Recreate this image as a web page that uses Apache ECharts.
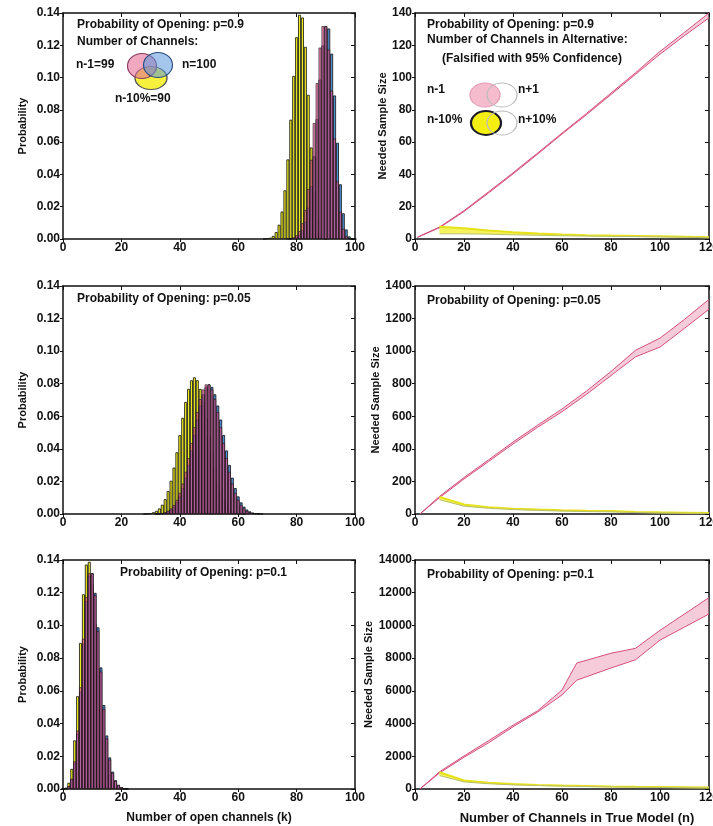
<!DOCTYPE html>
<html><head><meta charset="utf-8">
<script src="https://cdn.jsdelivr.net/npm/echarts@6/dist/echarts.min.js"></script>
<style>html,body{margin:0;padding:0;background:#fff;overflow:hidden}#c{width:713px;height:826px}</style>
</head><body><div id="c"></div>
<script>
// ---------- Histogram data (probability of k open channels) ----------
// p = 0.9
const topN100K0 = 78;
const topN100P = [0.0002,0.0005,0.0012,0.0026,0.0054,0.0106,0.0193,0.0327,0.0513,0.0743,0.0988,0.1199,0.1319,0.1304,0.1148,0.0889,0.0596,0.0339,0.0159,0.0059,0.0016,0.0003,0.0000];
const topN99K0 = 77;
const topN99P = [0.0002,0.0004,0.0010,0.0023,0.0049,0.0098,0.0180,0.0309,0.0490,0.0719,0.0966,0.1186,0.1319,0.1319,0.1174,0.0919,0.0622,0.0357,0.0169,0.0063,0.0018,0.0003,0.0000];
const topN90K0 = 69;
const topN90P = [0.0001,0.0003,0.0008,0.0019,0.0043,0.0088,0.0170,0.0301,0.0493,0.0739,0.1010,0.1250,0.1389,0.1372,0.1190,0.0893,0.0567,0.0297,0.0123,0.0038,0.0008,0.0001];
// p = 0.05 (as labelled)
const midN100K0 = 32;
const midN100P = [0.0001,0.0002,0.0005,0.0009,0.0016,0.0027,0.0045,0.0071,0.0108,0.0159,0.0223,0.0301,0.0390,0.0485,0.0580,0.0666,0.0735,0.0780,0.0796,0.0780,0.0735,0.0666,0.0580,0.0485,0.0390,0.0301,0.0223,0.0159,0.0108,0.0071,0.0045,0.0027,0.0016,0.0009,0.0005,0.0002,0.0001];
const midN99K0 = 32;
const midN99P = [0.0002,0.0003,0.0006,0.0011,0.0020,0.0034,0.0055,0.0087,0.0130,0.0187,0.0259,0.0343,0.0436,0.0533,0.0626,0.0706,0.0765,0.0796,0.0796,0.0765,0.0706,0.0626,0.0533,0.0436,0.0343,0.0259,0.0187,0.0130,0.0087,0.0055,0.0034,0.0020,0.0011,0.0006,0.0003,0.0002];
const midN90K0 = 28;
const midN90P = [0.0001,0.0003,0.0005,0.0011,0.0019,0.0034,0.0057,0.0091,0.0140,0.0204,0.0285,0.0379,0.0484,0.0590,0.0688,0.0768,0.0821,0.0839,0.0821,0.0768,0.0688,0.0590,0.0484,0.0379,0.0285,0.0204,0.0140,0.0091,0.0057,0.0034,0.0019,0.0011,0.0005,0.0003,0.0001];
// p = 0.1
const botN100K0 = 0;
const botN100P = [0.0000,0.0003,0.0016,0.0059,0.0159,0.0339,0.0596,0.0889,0.1148,0.1304,0.1319,0.1199,0.0988,0.0743,0.0513,0.0327,0.0193,0.0106,0.0054,0.0026,0.0012,0.0005,0.0002];
const botN99K0 = 0;
const botN99P = [0.0000,0.0003,0.0018,0.0063,0.0169,0.0357,0.0622,0.0919,0.1174,0.1319,0.1319,0.1186,0.0966,0.0719,0.0490,0.0309,0.0180,0.0098,0.0049,0.0023,0.0010,0.0004,0.0002];
const botN90K0 = 0;
const botN90P = [0.0001,0.0008,0.0038,0.0123,0.0297,0.0567,0.0893,0.1190,0.1372,0.1389,0.1250,0.1010,0.0739,0.0493,0.0301,0.0170,0.0088,0.0043,0.0019,0.0008,0.0003,0.0001];

// ---------- Needed sample size data ----------
const topPinkN = [1,10,20,30,40,50,60,70,80,90,100,110,120];
const topPinkHi = [1.2,7.4,17.6,29.2,41,53.2,65.6,77.8,90.4,103,116.2,128,140];
const topPinkLo = [1,7.0,17.0,28.5,40.3,52.5,65,77,89.5,102,114.5,126,137];
const topYelN = [10,20,30,40,50,60,70,80,90,100,110,120];
const topYelHi = [7.6,6.6,5.2,4.2,3.4,2.8,2.4,2.1,1.9,1.7,1.4,1.1];
const topYelLo = [3.2,3.2,3.0,2.6,2.3,2.0,1.8,1.6,1.5,1.3,1.1,0.8];

const midPinkN = [2,10,20,30,40,50,60,70,80,90,100,110,120];
const midPinkHi = [0,108,224,332,442,545,645,755,875,1005,1080,1195,1318];
const midPinkLo = [0,100,215,322,430,532,628,735,850,965,1025,1140,1258];
const midYelN = [10,20,30,40,50,60,70,80,90,100,110,120];
const midYelHi = [105,58,42,33,27,23,20,18,13,10,8,6];
const midYelLo = [88,48,35,27,22,18,15,13,9,6,5,3];

const botPinkN = [2,10,20,30,40,50,60,66,80,90,100,110,120];
const botPinkHi = [0,1050,2020,2950,3900,4780,6050,7700,8300,8600,9700,10700,11700];
const botPinkLo = [0,980,1940,2820,3800,4700,5750,6650,7400,7900,9100,9900,10700];
const botYelN = [10,20,30,40,50,60,70,80,90,100,110,120];
const botYelHi = [1020,520,380,300,250,210,180,150,130,115,100,85];
const botYelLo = [820,430,320,250,210,175,150,125,110,95,80,70];

// ---------- tick settings ----------
const histXTicks = {min:0, max:100, interval:20};
const histYTicks = {min:0, max:0.14, interval:0.02};
const sizeXTicks = {min:0, max:120, interval:20};
const sizeYTicks = [{min:0,max:140,interval:20},{min:0,max:1400,interval:200},{min:0,max:14000,interval:2000}];

// ---------- helpers ----------
const FONT = 'Liberation Sans';
function bars(k0, ps){ return ps.map((p,i)=>[k0+i, p]); }
function zip(xs, ys){ return xs.map((x,i)=>[x, ys[i]]); }

const grids = [];
const L = {left:63, right:358}, R = {left:415, right:4};
const rows = [{top:13,height:226},{top:286,height:228},{top:560,height:229}];
rows.forEach(r=>{
  grids.push({left:L.left,right:L.right,top:r.top,height:r.height,outerBoundsMode:'none',containLabel:false});
  grids.push({left:R.left,right:R.right,top:r.top,height:r.height,outerBoundsMode:'none',containLabel:false});
});

const lineCol = '#111';
const labelStyle = {fontFamily:FONT, fontWeight:'bold', fontSize:12, color:'#111'};
const xAxes = [], yAxes = [];
for (let g=0; g<6; g++){
  const isHist = g%2===0;
  const xt = isHist ? histXTicks : sizeXTicks;
  const yt = isHist ? histYTicks : sizeYTicks[Math.floor(g/2)];
  const bottomRow = g>=4;
  xAxes.push({type:'value', gridIndex:g, position:'bottom', min:xt.min, max:xt.max, interval:xt.interval,
    splitLine:{show:false}, axisLine:{onZero:false,lineStyle:{color:lineCol,width:1.5}},
    axisTick:{inside:false,length:3,lineStyle:{color:lineCol}},
    axisLabel:Object.assign({margin:3}, labelStyle),
    name: bottomRow ? (isHist ? 'Number of open channels (k)' : 'Number of Channels in True Model (n)') : '',
    nameLocation:'middle', nameGap: 23,
    nameTextStyle: isHist ? {fontFamily:FONT,fontWeight:'bold',fontSize:12,color:'#111'}
                          : {fontFamily:FONT,fontWeight:'bold',fontSize:13,color:'#111',padding:[0,0,0,30]}});
  yAxes.push({type:'value', gridIndex:g, position:'left', min:yt.min, max:yt.max, interval:yt.interval,
    splitLine:{show:false}, axisLine:{onZero:false,lineStyle:{color:lineCol,width:1.5}},
    axisTick:{inside:false,length:3,lineStyle:{color:lineCol}},
    axisLabel:Object.assign({margin:3, formatter: isHist ? (v=>v.toFixed(2)) : (v=>String(v))}, labelStyle),
    name: isHist ? 'Probability' : 'Needed Sample Size',
    nameLocation:'middle', nameGap: isHist ? 35 : 27,
    nameTextStyle:{fontFamily:FONT,fontWeight:'bold',fontSize:11,color:'#111'}});
}
for (let g=0; g<6; g++){
  const isHist = g%2===0;
  const xt = isHist ? histXTicks : sizeXTicks;
  const yt = isHist ? histYTicks : sizeYTicks[Math.floor(g/2)];
  xAxes.push({type:'value', gridIndex:g, position:'top', min:xt.min, max:xt.max, interval:xt.interval,
    splitLine:{show:false}, axisLine:{onZero:false,lineStyle:{color:lineCol,width:1.5}},
    axisTick:{inside:true,length:4,lineStyle:{color:lineCol}}, axisLabel:{show:false}});
  yAxes.push({type:'value', gridIndex:g, position:'right', min:yt.min, max:yt.max, interval:yt.interval,
    splitLine:{show:false}, axisLine:{onZero:false,lineStyle:{color:lineCol,width:1.5}},
    axisTick:{inside:true,length:4,lineStyle:{color:lineCol}}, axisLabel:{show:false}});
}

const YEL = '#f0ee1a', BLUE = '#4f8fd6', PINK = '#e2508e';
function barSeries(g, data, color, opacity){
  return {type:'bar', xAxisIndex:g, yAxisIndex:g, data:data, barWidth:2.9, barGap:'-100%',
    silent:true, itemStyle:{color:color, opacity:opacity, borderColor:'#111', borderWidth:0.8}};
}
function bandSeries(g, xs, lo, hi, color){
  return {type:'custom', xAxisIndex:g, yAxisIndex:g, data:[[xs[0], lo[0]]], silent:true, z:1,
    renderItem:function(params, api){
      const pts=[];
      for(let i=0;i<xs.length;i++) pts.push(api.coord([xs[i],hi[i]]));
      for(let i=xs.length-1;i>=0;i--) pts.push(api.coord([xs[i],lo[i]]));
      return {type:'polygon', shape:{points:pts}, style:{fill:color}};
    }};
}
function lineSeries(g, xs, ys, color, width){
  return {type:'line', xAxisIndex:g, yAxisIndex:g, data:zip(xs,ys), showSymbol:false, silent:true, z:3,
    lineStyle:{color:color,width:width}};
}

const series = [];
// histograms
[[0,topN90K0,topN90P,topN100K0,topN100P,topN99K0,topN99P],
 [2,midN90K0,midN90P,midN100K0,midN100P,midN99K0,midN99P],
 [4,botN90K0,botN90P,botN100K0,botN100P,botN99K0,botN99P]].forEach(a=>{
  series.push(barSeries(a[0], bars(a[1],a[2]), YEL, 1));
  series.push(barSeries(a[0], bars(a[3],a[4]), BLUE, 1));
  series.push(barSeries(a[0], bars(a[5],a[6]), PINK, 0.7));
});
// sample size
[[1,topPinkN,topPinkLo,topPinkHi,topYelN,topYelLo,topYelHi],
 [3,midPinkN,midPinkLo,midPinkHi,midYelN,midYelLo,midYelHi],
 [5,botPinkN,botPinkLo,botPinkHi,botYelN,botYelLo,botYelHi]].forEach(a=>{
  const g=a[0];
  series.push(bandSeries(g, a[1], a[2], a[3], 'rgba(236,140,172,0.45)'));
  series.push(lineSeries(g, a[1], a[2], '#d4507a', 1));
  series.push(lineSeries(g, a[1], a[3], '#d4507a', 1));
  series.push(bandSeries(g, a[4], a[5], a[6], 'rgba(242,238,40,0.75)'));
  series.push(lineSeries(g, a[4], a[6], '#e6e21a', 2));
  series.push(lineSeries(g, a[4], a[5], '#b8c070', 1));
});

// ---------- annotations ----------
function txt(x,y,s,size){ return {type:'text', x:x, y:y, silent:true, z:100,
  style:{text:s, fill:'#111', font:'bold '+(size||12)+'px "'+FONT+'"', textVerticalAlign:'middle', textAlign:'left'}}; }
function ell(cx,cy,rx,ry,fill,stroke,lw){ return {type:'circle', x:cx, y:cy, scaleX:rx/ry, scaleY:1, silent:true, z:100,
  shape:{cx:0,cy:0,r:ry}, style:{fill:fill, stroke:stroke, lineWidth:lw||1}}; }

const graphic = [
  txt(77,25,'Probability of Opening: p=0.9'),
  txt(77,42,'Number of Channels:'),
  txt(76,65,'n-1=99'),
  txt(182,65,'n=100'),
  txt(115,99,'n-10%=90'),
  ell(151,78,16,11.5,'rgba(246,240,40,0.9)','#555',1),
  ell(142,66,14.5,12.5,'rgba(228,110,150,0.6)','#8a3a60',1),
  ell(158,65,14.5,12.5,'rgba(90,150,220,0.55)','#2c4d80',1),

  txt(427,25,'Probability of Opening: p=0.9'),
  txt(427,40,'Number of Channels in Alternative:'),
  txt(442,59,'(Falsified with 95% Confidence)'),
  txt(427,90,'n-1'),
  txt(518,90,'n+1'),
  txt(427,120,'n-10%'),
  txt(518,120,'n+10%'),
  ell(485,95,15,12,'#f4bccd','#e59ab2',1),
  ell(502,95,15,12,null,'#bbbbbb',1),
  ell(486,123,15,12,'#f5ee12','#1a1a2a',1.8),
  ell(502,123,15,12,null,'#bbbbbb',1),

  txt(77,299,'Probability of Opening: p=0.05'),
  txt(427,301,'Probability of Opening: p=0.05'),
  txt(120,573,'Probability of Opening: p=0.1'),
  txt(427,575,'Probability of Opening: p=0.1')
];

const chart = echarts.init(document.getElementById('c'), null, {renderer:'canvas'});
chart.setOption({
  animation:false, backgroundColor:'#fff',
  grid:grids, xAxis:xAxes, yAxis:yAxes, series:series, graphic:graphic
});
</script>
</body></html>
